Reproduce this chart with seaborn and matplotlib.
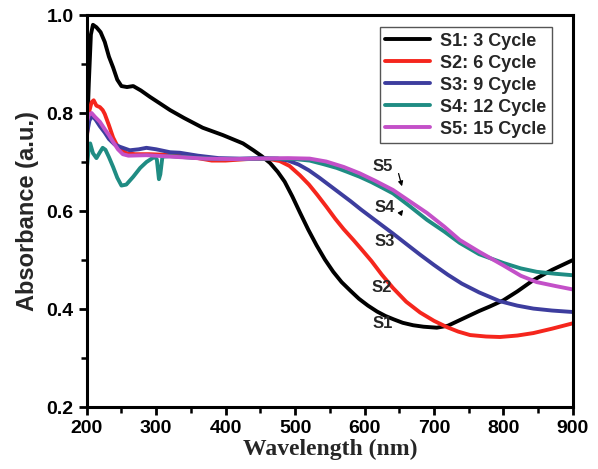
import numpy as np
import pandas as pd
import matplotlib
matplotlib.use('Agg')
import matplotlib.pyplot as plt
import seaborn as sns
from matplotlib.ticker import MultipleLocator, FormatStrFormatter

# Absorbance spectra (wavelength in nm)
s1_wl = [200, 203, 206, 209, 214, 220, 226, 232, 238, 244, 250, 258, 267, 278, 291, 305, 320, 340,
         367, 396, 425, 440, 452, 464, 475, 485, 496, 507, 519, 531, 543, 555, 567, 580, 592, 605,
         618, 630, 642, 655, 670, 685, 704, 720, 735, 750, 765, 780, 800, 820, 843, 870, 900]
s1_abs = [0.74, 0.86, 0.96, 0.98, 0.975, 0.965, 0.945, 0.915, 0.893, 0.868, 0.855, 0.853, 0.855, 0.846,
          0.833, 0.82, 0.806, 0.79, 0.77, 0.755, 0.738, 0.724, 0.712, 0.698, 0.68, 0.66, 0.63, 0.597,
          0.562, 0.53, 0.501, 0.476, 0.455, 0.437, 0.421, 0.407, 0.395, 0.386, 0.379, 0.372, 0.367,
          0.364, 0.362, 0.366, 0.376, 0.386, 0.396, 0.405, 0.418, 0.436, 0.459, 0.48, 0.50]

s2_wl = [200, 203, 207, 210, 214, 219, 223, 226, 232, 238, 243, 248, 257, 270, 290, 310, 334, 360,
         380, 400, 430, 460, 478, 492, 507, 520, 532, 545, 558, 570, 584, 595, 610, 625, 641, 660,
         680, 700, 719, 735, 752, 775, 795, 820, 843, 870, 900]
s2_abs = [0.745, 0.8, 0.822, 0.826, 0.815, 0.812, 0.806, 0.798, 0.775, 0.75, 0.736, 0.727, 0.718,
          0.716, 0.716, 0.715, 0.713, 0.708, 0.703, 0.703, 0.706, 0.707, 0.702, 0.692, 0.673, 0.654,
          0.633, 0.609, 0.584, 0.563, 0.541, 0.523, 0.498, 0.470, 0.443, 0.415, 0.393, 0.376, 0.363,
          0.354, 0.347, 0.344, 0.343, 0.346, 0.351, 0.36, 0.371]

s3_wl = [200, 204, 208, 213, 219, 226, 232, 240, 248, 262, 275, 286, 300, 320, 334, 360, 390, 420,
         450, 475, 490, 505, 520, 535, 550, 565, 580, 595, 610, 625, 641, 660, 680, 700, 720, 740,
         765, 795, 820, 843, 870, 900]
s3_abs = [0.755, 0.785, 0.794, 0.786, 0.773, 0.76, 0.747, 0.736, 0.731, 0.724, 0.726, 0.729, 0.726,
          0.72, 0.719, 0.713, 0.708, 0.707, 0.708, 0.707, 0.703, 0.695, 0.683, 0.668, 0.652, 0.636,
          0.62, 0.603, 0.587, 0.571, 0.554, 0.533, 0.511, 0.49, 0.47, 0.452, 0.434, 0.416, 0.407,
          0.401, 0.397, 0.394]

s4_wl = [200, 203, 205, 209, 214, 219, 223, 227, 232, 238, 244, 250, 257, 267, 277, 286, 298, 301,
         304, 306, 309, 320, 350, 390, 430, 470, 500, 521, 540, 560, 575, 593, 610, 625, 641, 665,
         690, 715, 737, 765, 800, 825, 848, 875, 900]
s4_abs = [0.684, 0.73, 0.738, 0.718, 0.708, 0.72, 0.729, 0.725, 0.71, 0.69, 0.668, 0.652, 0.654,
          0.67, 0.688, 0.70, 0.711, 0.705, 0.665, 0.675, 0.711, 0.712, 0.709, 0.706, 0.706, 0.707,
          0.706, 0.703, 0.696, 0.688, 0.68, 0.67, 0.659, 0.648, 0.636, 0.61, 0.582, 0.558, 0.535,
          0.512, 0.494, 0.483, 0.476, 0.472, 0.469]

s5_wl = [200, 203, 207, 212, 219, 226, 232, 238, 245, 252, 260, 286, 310, 334, 370, 410, 450, 490,
         521, 545, 570, 593, 615, 641, 665, 690, 715, 737, 765, 800, 825, 848, 875, 900]
s5_abs = [0.78, 0.796, 0.80, 0.792, 0.782, 0.767, 0.755, 0.741, 0.726, 0.716, 0.713, 0.714, 0.712,
          0.71, 0.707, 0.706, 0.707, 0.708, 0.707, 0.701, 0.69, 0.677, 0.662, 0.643, 0.62, 0.596,
          0.568, 0.541, 0.517, 0.489, 0.468, 0.455, 0.447, 0.44]

labels = ['S1: 3 Cycle', 'S2: 6 Cycle', 'S3: 9 Cycle', 'S4: 12 Cycle', 'S5: 15 Cycle']
colors = ['#000000', '#f5261d', '#3d3d9e', '#1f8c83', '#c350c8']

frames = []
for lab, wl, ab in zip(labels, [s1_wl, s2_wl, s3_wl, s4_wl, s5_wl],
                       [s1_abs, s2_abs, s3_abs, s4_abs, s5_abs]):
    frames.append(pd.DataFrame({'Wavelength': wl, 'Absorbance': ab, 'Sample': lab}))
df = pd.concat(frames, ignore_index=True)

sns.set_style('ticks')
plt.rcParams['font.family'] = ['Liberation Sans', 'DejaVu Sans']
plt.rcParams['font.weight'] = 'bold'

fig, ax = plt.subplots(figsize=(5.98, 4.69), dpi=100)
fig.subplots_adjust(left=0.145, right=0.958, top=0.968, bottom=0.132)

sns.lineplot(data=df, x='Wavelength', y='Absorbance', hue='Sample', hue_order=labels,
             palette=colors, estimator=None, sort=True, linewidth=2.8, ax=ax)

ax.set_xlim(200, 900)
ax.set_ylim(0.2, 1.0)
ax.xaxis.set_major_locator(MultipleLocator(100))
ax.xaxis.set_minor_locator(MultipleLocator(50))
ax.yaxis.set_major_locator(MultipleLocator(0.2))
ax.yaxis.set_minor_locator(MultipleLocator(0.1))
ax.yaxis.set_major_formatter(FormatStrFormatter('%.1f'))

for sp in ax.spines.values():
    sp.set_linewidth(2.2)
    sp.set_color('black')
ax.tick_params(which='major', direction='out', length=6, width=2, labelsize=14, colors='black')
ax.tick_params(which='minor', direction='out', length=4, width=1.8, colors='black')
for t in ax.get_xticklabels() + ax.get_yticklabels():
    t.set_fontweight('bold')

ax.set_xlabel('Wavelength (nm)', fontsize=17, fontweight='bold',
              family=['Liberation Serif', 'DejaVu Serif'], labelpad=1)
ax.set_ylabel('Absorbance (a.u.)', fontsize=17, fontweight='bold', labelpad=5)

handles, labs = ax.get_legend_handles_labels()
leg = ax.legend(handles, labs, loc='upper right', bbox_to_anchor=(0.957, 0.969), borderaxespad=0,
                handlelength=2.5, handletextpad=0.55, labelspacing=0.28,
                borderpad=0.3, fancybox=False, framealpha=1, edgecolor='#555555',
                prop={'weight': 'bold', 'size': 13})
leg.get_frame().set_linewidth(1)

# curve labels and arrows
ax.text(626, 0.69, 'S5', fontsize=12, fontweight='bold', ha='center', va='center')
ax.text(629, 0.608, 'S4', fontsize=12, fontweight='bold', ha='center', va='center')
ax.text(629, 0.537, 'S3', fontsize=12, fontweight='bold', ha='center', va='center')
ax.text(625, 0.445, 'S2', fontsize=12, fontweight='bold', ha='center', va='center')
ax.text(626, 0.371, 'S1', fontsize=12, fontweight='bold', ha='center', va='center')
ax.annotate('', xy=(655, 0.645), xytext=(648, 0.682),
            arrowprops=dict(arrowstyle='-|>', lw=0.9, color='black', mutation_scale=7))
ax.annotate('', xy=(658, 0.607), xytext=(650, 0.592),
            arrowprops=dict(arrowstyle='-|>', lw=0.9, color='black', mutation_scale=7))

fig.savefig('out.png', dpi=100)
